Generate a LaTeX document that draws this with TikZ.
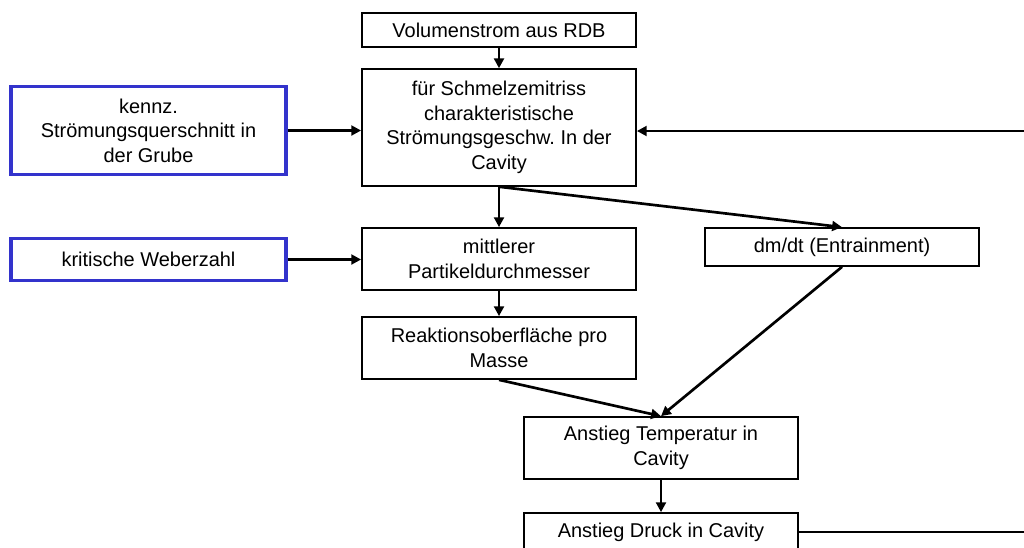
\documentclass[tikz,border=0pt]{standalone}
\usepackage{fontspec}
\setmainfont{Liberation Sans}
\usepackage{xcolor}
\usetikzlibrary{arrows.meta}
\frenchspacing

\definecolor{boxblue}{RGB}{51,51,204}

\begin{document}
\begin{tikzpicture}[x=0.025cm, y=-0.025cm,
  every node/.style={font=\fontsize{14.2}{17.5}\selectfont, align=center, inner sep=2pt},
  blk/.style={draw=black, line width=1.2pt, minimum width=6.85cm},
  inp/.style={draw=boxblue, line width=2.8pt, minimum width=6.85cm},
  flow/.style={line width=1.9pt, -{Triangle[length=7pt,width=7pt]}}]
\clip (0,0) rectangle (1024,547);

\node[blk, minimum height=0.85cm] (vol) at (499,30) {Volumenstrom aus RDB};
\node[blk, minimum height=2.92cm] (geschw) at (499,127.5) {f\"ur Schmelzemitriss\\charakteristische\\Str\"omungsgeschw. In der\\Cavity};
\node[inp, minimum height=2.2cm] (quer) at (148.5,130.5) {kennz.\\Str\"omungsquerschnitt in\\der Grube};
\node[inp, minimum height=1.05cm] (weber) at (148.5,259.5) {kritische Weberzahl};
\node[blk, minimum height=1.55cm] (partikel) at (499,259) {mittlerer\\Partikeldurchmesser};
\node[blk, minimum height=1.55cm] (reakt) at (499,348) {Reaktionsoberfl\"ache pro\\Masse};
\node[blk, minimum height=0.95cm] (entrain) at (842,247) {dm/dt (Entrainment)};
\node[blk, minimum height=1.55cm] (temp) at (661,448) {Anstieg Temperatur in\\Cavity};
\node[blk, minimum height=0.95cm] (druck) at (661,532) {Anstieg Druck in Cavity};

\coordinate (rueck) at (1024,131);
\coordinate (aus) at (1024,532);

\draw[flow] (vol) -- (geschw);
\draw[flow] (quer.east) -- (quer.east -| geschw.west);
\draw[flow] (rueck) -- (rueck -| geschw.east);
\draw[flow] (geschw) -- (partikel);
\draw[flow] (geschw.south) -- (entrain.north);
\draw[flow] (weber.east) -- (weber.east -| partikel.west);
\draw[flow] (partikel) -- (reakt);
\draw[flow] (reakt.south) -- (temp.north);
\draw[flow] (entrain.south) -- (temp.north);
\draw[flow] (temp) -- (druck);
\draw[line width=1.9pt] (druck.east) -- (aus);

\end{tikzpicture}
\end{document}
